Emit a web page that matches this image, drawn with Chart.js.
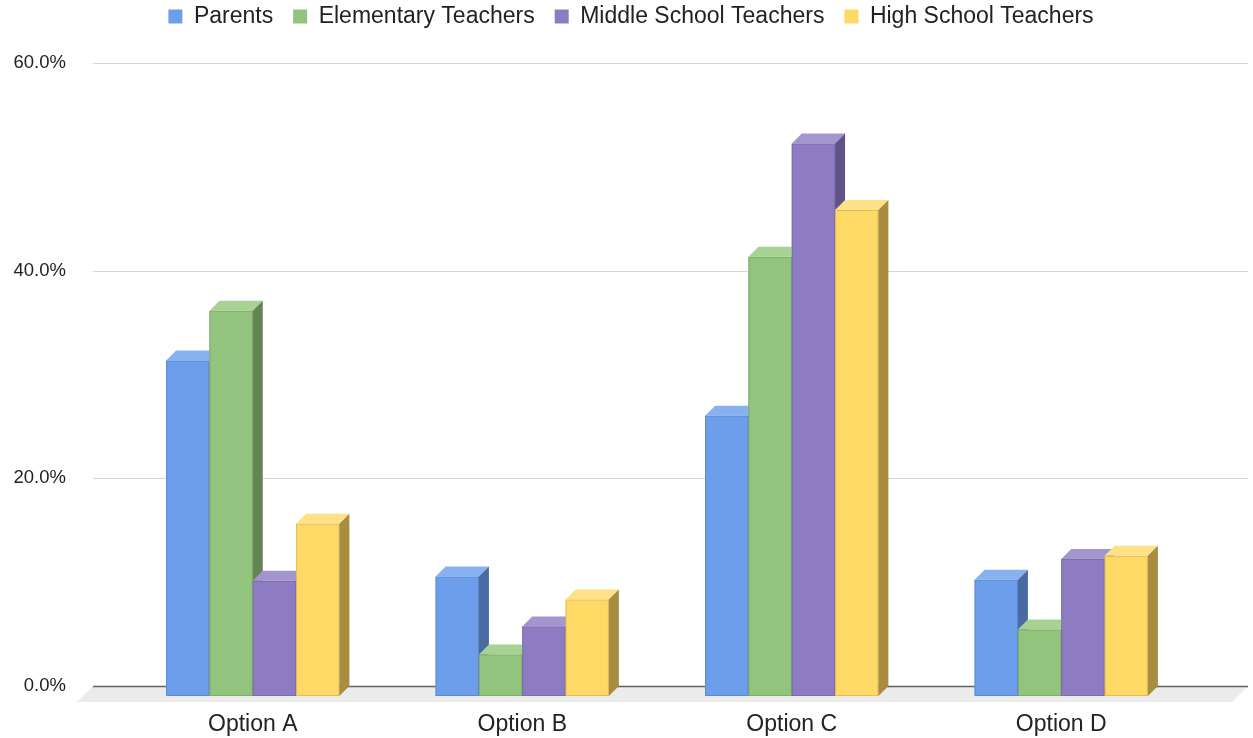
<!DOCTYPE html>
<html>
<head>
<meta charset="utf-8">
<script src="https://cdn.jsdelivr.net/npm/chart.js@4"></script>
<style>
  body { margin: 0; background: #fff; }
  #wrap { width: 1253px; height: 738px; }
</style>
</head>
<body>
<div id="wrap"><canvas id="myChart" width="1253" height="738"></canvas></div>
<script>
// data (percent)
var categories = ['Option A', 'Option B', 'Option C', 'Option D'];
var parents = [32.3, 11.5, 27.0, 11.2];
var elementary = [37.1, 4.0, 42.3, 6.4];
var middle = [11.1, 6.7, 53.2, 13.2];
var high = [16.6, 9.3, 46.8, 13.5];
var seriesNames = ['Parents', 'Elementary Teachers', 'Middle School Teachers', 'High School Teachers'];
var yTicks = [0, 20, 40, 60];

// colours for the 3d faces
var frontColors = ['#6d9eeb', '#93c47d', '#8e7cc3', '#ffd966'];
var topColors = ['#88b1f0', '#a8d194', '#a396cf', '#ffe187'];
var sideColors = ['#4a6ba1', '#628553', '#5e5287', '#a88c40'];
var depth = 10;
var font = "Arial, 'Liberation Sans', sans-serif";

// nudge the legend up and to the right, plot area stays put
var legendShift = {
  id: 'legendShift',
  afterLayout: function(chart) {
    var lg = chart.legend;
    lg.top -= 25; lg.bottom -= 25;
    lg.left += 33; lg.right += 33;
  }
};

var bars3d = {
  id: 'bars3d',
  beforeDatasetsDraw: function(chart) {
    var ctx = chart.ctx;
    var y = chart.scales.y;
    var y0 = y.getPixelForValue(0);
    var l = chart.chartArea.left - 25;
    var r = chart.chartArea.right + 52;
    ctx.save();
    // floor
    ctx.fillStyle = '#ebebeb';
    ctx.beginPath();
    ctx.moveTo(l, y0);
    ctx.lineTo(r, y0);
    ctx.lineTo(r - 16, y0 + 16);
    ctx.lineTo(l - 16, y0 + 16);
    ctx.closePath();
    ctx.fill();
    // gridlines on the back wall
    yTicks.forEach(function(v) {
      var py = Math.round(y.getPixelForValue(v)) + 0.5;
      ctx.strokeStyle = v === 0 ? '#616161' : '#d6d6d6';
      ctx.lineWidth = v === 0 ? 1.5 : 1;
      ctx.beginPath();
      ctx.moveTo(l, py);
      ctx.lineTo(r, py);
      ctx.stroke();
    });
    ctx.restore();
    ctx.save();
    ctx.translate(0, depth);
  },
  afterDatasetsDraw: function(chart) {
    var ctx = chart.ctx;
    var n = chart.data.labels.length;
    for (var i = 0; i < n; i++) {
      for (var d = 0; d < chart.data.datasets.length; d++) {
        var bar = chart.getDatasetMeta(d).data[i];
        var x0 = bar.x - bar.width / 2;
        var x1 = bar.x + bar.width / 2;
        var top = bar.y;
        var base = bar.base;
        // front
        ctx.fillStyle = frontColors[d];
        ctx.fillRect(x0, top, x1 - x0, base - top);
        ctx.strokeStyle = 'rgba(0,0,0,0.12)';
        ctx.lineWidth = 1;
        ctx.strokeRect(x0 + 0.5, top + 0.5, x1 - x0 - 1, base - top - 1);
        // top
        ctx.fillStyle = topColors[d];
        ctx.beginPath();
        ctx.moveTo(x0, top);
        ctx.lineTo(x1, top);
        ctx.lineTo(x1 + depth, top - depth);
        ctx.lineTo(x0 + depth, top - depth);
        ctx.closePath();
        ctx.fill();
        // side
        ctx.fillStyle = sideColors[d];
        ctx.beginPath();
        ctx.moveTo(x1, top);
        ctx.lineTo(x1 + depth, top - depth);
        ctx.lineTo(x1 + depth, base - depth);
        ctx.lineTo(x1, base);
        ctx.closePath();
        ctx.fill();
      }
    }
    ctx.restore();
  }
};

var seriesData = [parents, elementary, middle, high];
var datasets = seriesData.map(function(vals, k) {
  return {
    label: seriesNames[k],
    data: vals,
    backgroundColor: frontColors[k],
    borderWidth: 0,
    barPercentage: 1,
    categoryPercentage: 0.643
  };
});

var ctx = document.getElementById('myChart').getContext('2d');
var myChart = new Chart(ctx, {
  type: 'bar',
  data: { labels: categories, datasets: datasets },
  plugins: [legendShift, bars3d],
  options: {
    responsive: false,
    animation: false,
    layout: { padding: { top: 0, right: 57, bottom: 0, left: 0 } },
    plugins: {
      tooltip: { enabled: false },
      legend: {
        position: 'top',
        labels: {
          boxWidth: 14,
          boxHeight: 14,
          padding: 20,
          color: '#222',
          font: { family: font, size: 23 }
        }
      }
    },
    scales: {
      x: {
        afterFit: function(scale) { scale.height = 52; },
        grid: { display: false, drawTicks: false },
        border: { display: false },
        ticks: {
          color: '#222',
          padding: 25,
          font: { family: font, size: 23 }
        }
      },
      y: {
        min: 0,
        max: 60,
        afterFit: function(scale) {
          scale.width = 118;
          scale.paddingTop = 63;
          scale.paddingBottom = 0;
        },
        afterBuildTicks: function(scale) {
          scale.ticks = yTicks.map(function(v) { return { value: v }; });
        },
        grid: { display: false, drawTicks: false },
        border: { display: false },
        ticks: {
          color: '#222',
          padding: 52,
          font: { family: font, size: 18.5 },
          callback: function(value) { return value.toFixed(1) + '%'; }
        }
      }
    }
  }
});
</script>
</body>
</html>
